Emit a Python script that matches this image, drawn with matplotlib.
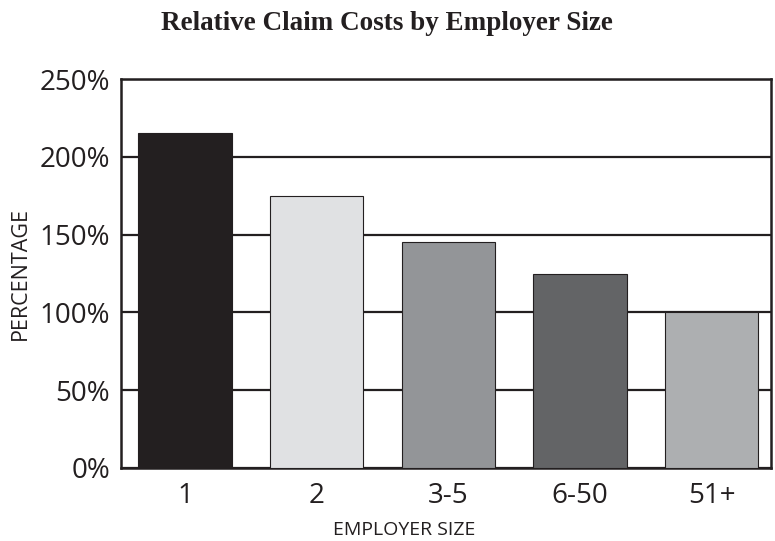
import numpy as np
import matplotlib
matplotlib.use("Agg")
import matplotlib.pyplot as plt

sizes = ["1", "2", "3-5", "6-50", "51+"]
costs = [215, 175, 145, 125, 100]
bar_colors = ["#231f20", "#e0e1e3", "#939598", "#636466", "#adafb1"]
yticks = [0, 50, 100, 150, 200, 250]

dark = "#231f20"
fig = plt.figure(figsize=(7.75, 5.41), dpi=100)
ax = fig.add_axes([121 / 775, 1 - 468 / 541, 650 / 775, 389 / 541])

x = np.arange(len(sizes))
ax.bar(x, costs, width=0.71, color=bar_colors, edgecolor=dark, linewidth=0.8, zorder=3)

ax.set_ylim(0, 250)
ax.set_xlim(-0.486, 4.45)
ax.set_yticks(yticks)
ax.set_yticklabels([str(v) + "%" for v in yticks])
ax.set_xticks(x)
ax.set_xticklabels(sizes)
ax.yaxis.grid(True, color=dark, linewidth=1.6, zorder=0)
ax.set_axisbelow(True)

for s in ax.spines.values():
    s.set_color(dark)
    s.set_linewidth(1.8)

ax.tick_params(axis="both", length=0, labelsize=20, colors=dark)
ax.tick_params(axis="x", pad=10)
ax.tick_params(axis="y", pad=8)
for lab in ax.get_xticklabels() + ax.get_yticklabels():
    lab.set_fontfamily("Open Sans")

fig.text(404 / 775, 1 - 530 / 541, "EMPLOYER SIZE", ha="center", va="center",
         fontsize=14, family="Open Sans", color=dark)
fig.text(20 / 775, 1 - 273 / 541, "PERCENTAGE", ha="center", va="center",
         rotation=90, fontsize=15.5, family="Open Sans", color=dark)
fig.text(387 / 775, 1 - 24 / 541, "Relative Claim Costs by Employer Size",
         ha="center", va="center", fontsize=19.5, fontweight="bold",
         family="Liberation Serif", color=dark)

plt.savefig("out.png", dpi=100)
